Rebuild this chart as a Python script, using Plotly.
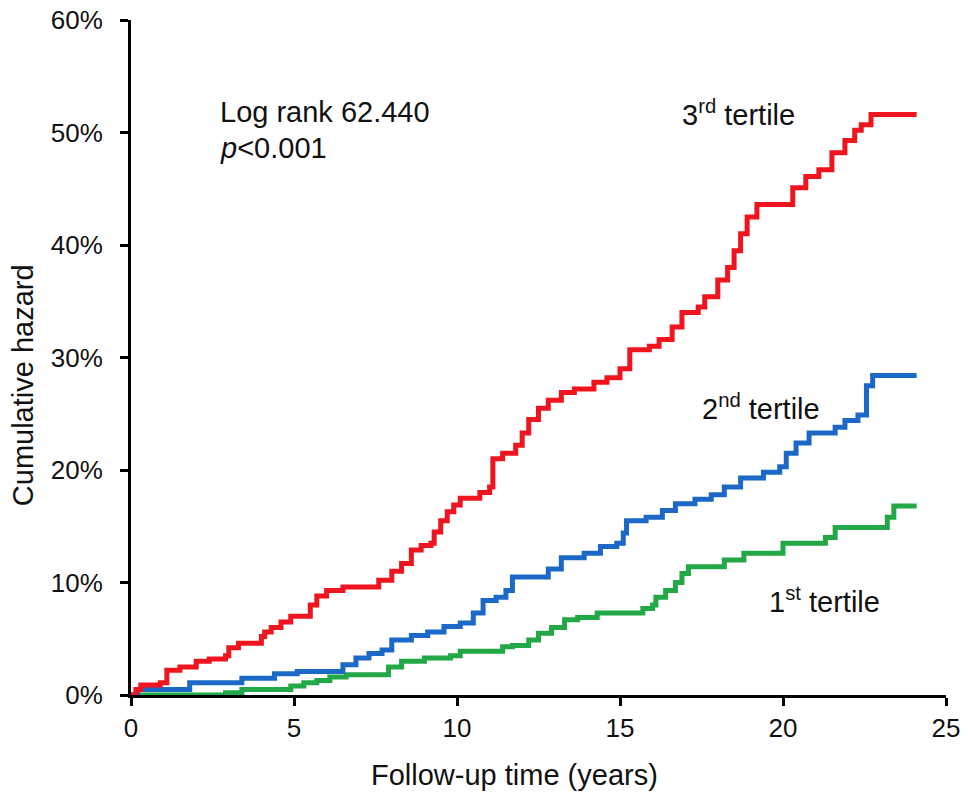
import plotly.graph_objects as go

# Step-function data: event times (years) and cumulative hazard (%) after each event
red_t = [0, 0.15, 0.3, 0.9, 1.1, 1.5, 2.0, 2.4, 2.9, 3.0, 3.3, 4.0, 4.1, 4.3, 4.6, 4.9,
         5.5, 5.7, 6.0, 6.5, 7.6, 8.0, 8.3, 8.6, 8.9, 9.2, 9.3, 9.5, 9.7, 9.9, 10.1,
         10.7, 11.0, 11.1, 11.4, 11.8, 12.0, 12.2, 12.5, 12.8, 13.2, 13.6, 14.2, 14.6,
         15.0, 15.3, 15.9, 16.2, 16.6, 16.9, 17.4, 17.6, 18.0, 18.3, 18.5, 18.7, 18.9,
         19.2, 20.3, 20.7, 21.1, 21.5, 21.9, 22.2, 22.4, 22.7, 24.1]
red_v = [0, 0.5, 0.9, 1.1, 2.2, 2.5, 3.0, 3.2, 3.5, 4.2, 4.6, 5.2, 5.6, 6.0, 6.5, 7.0,
         8.0, 8.8, 9.3, 9.6, 10.2, 11.0, 11.7, 12.9, 13.3, 13.5, 14.5, 15.5, 16.3, 16.9, 17.5,
         18.0, 18.5, 21.0, 21.5, 22.2, 23.3, 24.5, 25.5, 26.2, 26.9, 27.2, 27.8, 28.2,
         29.0, 30.7, 31.0, 31.6, 32.7, 34.0, 34.5, 35.4, 36.9, 38.0, 39.5, 41.0, 42.5,
         43.6, 45.1, 46.1, 46.7, 48.2, 49.3, 50.2, 50.7, 51.6, 51.6]

blue_t = [0, 0.2, 1.8, 3.4, 4.4, 5.1, 6.5, 6.9, 7.3, 7.7, 8.0, 8.6, 9.1, 9.6, 10.1,
          10.5, 10.8, 11.2, 11.5, 11.7, 12.8, 13.2, 13.9, 14.4, 14.9, 15.1, 15.2, 15.8,
          16.3, 16.7, 17.3, 17.8, 18.2, 18.7, 19.4, 19.9, 20.1, 20.4, 20.8, 21.6, 21.9,
          22.3, 22.56, 22.75, 24.1]
blue_v = [0, 0.5, 1.1, 1.5, 1.9, 2.1, 2.7, 3.3, 3.7, 4.0, 4.9, 5.3, 5.6, 6.1, 6.4,
          7.3, 8.4, 8.7, 9.3, 10.5, 11.2, 12.2, 12.6, 13.2, 13.5, 14.4, 15.5, 15.8,
          16.4, 17.0, 17.4, 17.8, 18.5, 19.3, 19.8, 20.3, 21.5, 22.4, 23.3, 23.8, 24.4,
          24.9, 27.5, 28.4, 28.4]

green_t = [0, 2.9, 3.4, 4.9, 5.3, 5.7, 6.1, 6.6, 7.9, 8.3, 9.0, 9.8, 10.1, 11.4, 11.7,
           12.2, 12.5, 12.9, 13.3, 13.7, 14.3, 15.7, 16.0, 16.1, 16.4, 16.7, 16.9, 17.1,
           18.2, 18.8, 20.0, 21.3, 21.6, 23.2, 23.4, 24.1]
green_v = [0, 0.2, 0.5, 0.8, 1.1, 1.3, 1.6, 1.8, 2.5, 3.0, 3.3, 3.5, 3.9, 4.3, 4.4,
           4.9, 5.5, 6.0, 6.7, 6.9, 7.3, 7.7, 8.0, 8.7, 9.3, 10.0, 10.8, 11.4,
           12.0, 12.6, 13.5, 14.0, 14.9, 15.8, 16.8, 16.8]

series_names = ["3rd tertile", "2nd tertile", "1st tertile"]
series_colors = ["#F0141E", "#1B68C6", "#22A846"]

x_ticks = [0, 5, 10, 15, 20, 25]
y_ticks = [0, 10, 20, 30, 40, 50, 60]

FONT = "Arial, Liberation Sans, Helvetica, sans-serif"
TXT = "#111111"

fig = go.Figure()
for t, v, name, col in [(green_t, green_v, series_names[2], series_colors[2]),
                        (blue_t, blue_v, series_names[1], series_colors[1]),
                        (red_t, red_v, series_names[0], series_colors[0])]:
    fig.add_trace(go.Scatter(x=t, y=v, mode="lines", name=name,
                             line=dict(color=col, width=5, shape="hv")))

ann_font = dict(family=FONT, size=29, color=TXT)
fig.add_annotation(x=2.67, y=51.8, xref="x", yref="y", text="Log rank 62.440",
                   showarrow=False, xanchor="left", yanchor="middle", font=ann_font)
fig.add_annotation(x=2.67, y=48.6, xref="x", yref="y", text="<i>p</i>&lt;0.001",
                   showarrow=False, xanchor="left", yanchor="middle", font=ann_font)
fig.add_annotation(x=18.62, y=51.7, xref="x", yref="y", text="3<sup>rd</sup> tertile",
                   showarrow=False, xanchor="center", yanchor="middle", font=ann_font)
fig.add_annotation(x=19.33, y=25.6, xref="x", yref="y", text="2<sup>nd</sup> tertile",
                   showarrow=False, xanchor="center", yanchor="middle", font=ann_font)
fig.add_annotation(x=21.26, y=8.44, xref="x", yref="y", text="1<sup>st</sup> tertile",
                   showarrow=False, xanchor="center", yanchor="middle", font=ann_font)

# axis titles
fig.add_annotation(x=0.470, y=-0.1185, xref="paper", yref="paper",
                   text="Follow-up time (years)", showarrow=False,
                   xanchor="center", yanchor="middle", font=ann_font)
fig.add_annotation(x=-0.1325, y=0.459, xref="paper", yref="paper",
                   text="Cumulative hazard", showarrow=False, textangle=-90,
                   xanchor="center", yanchor="middle", font=ann_font)

fig.update_layout(
    width=968, height=793,
    margin=dict(l=131, r=22, t=20, b=98, autoexpand=False),
    paper_bgcolor="white", plot_bgcolor="white",
    showlegend=False,
    font=dict(family=FONT, color=TXT),
)
fig.update_xaxes(
    range=[0, 25], tickvals=x_ticks, ticktext=[str(v) for v in x_ticks],
    showline=True, linecolor="black", linewidth=3, mirror=False,
    ticks="outside", ticklen=8, tickwidth=3, tickcolor="black",
    showgrid=False, zeroline=False, automargin=False,
    tickfont=dict(family=FONT, size=26, color=TXT),
)
fig.update_yaxes(
    range=[0, 60], tickvals=y_ticks, ticktext=[f"{v}%" for v in y_ticks],
    showline=True, linecolor="black", linewidth=3, mirror=False,
    ticks="outside", ticklen=8, tickwidth=3, tickcolor="black",
    showgrid=False, zeroline=False, automargin=False,
    tickfont=dict(family=FONT, size=26, color=TXT),
    ticklabelstandoff=12,
)

fig.write_html("out.html")
